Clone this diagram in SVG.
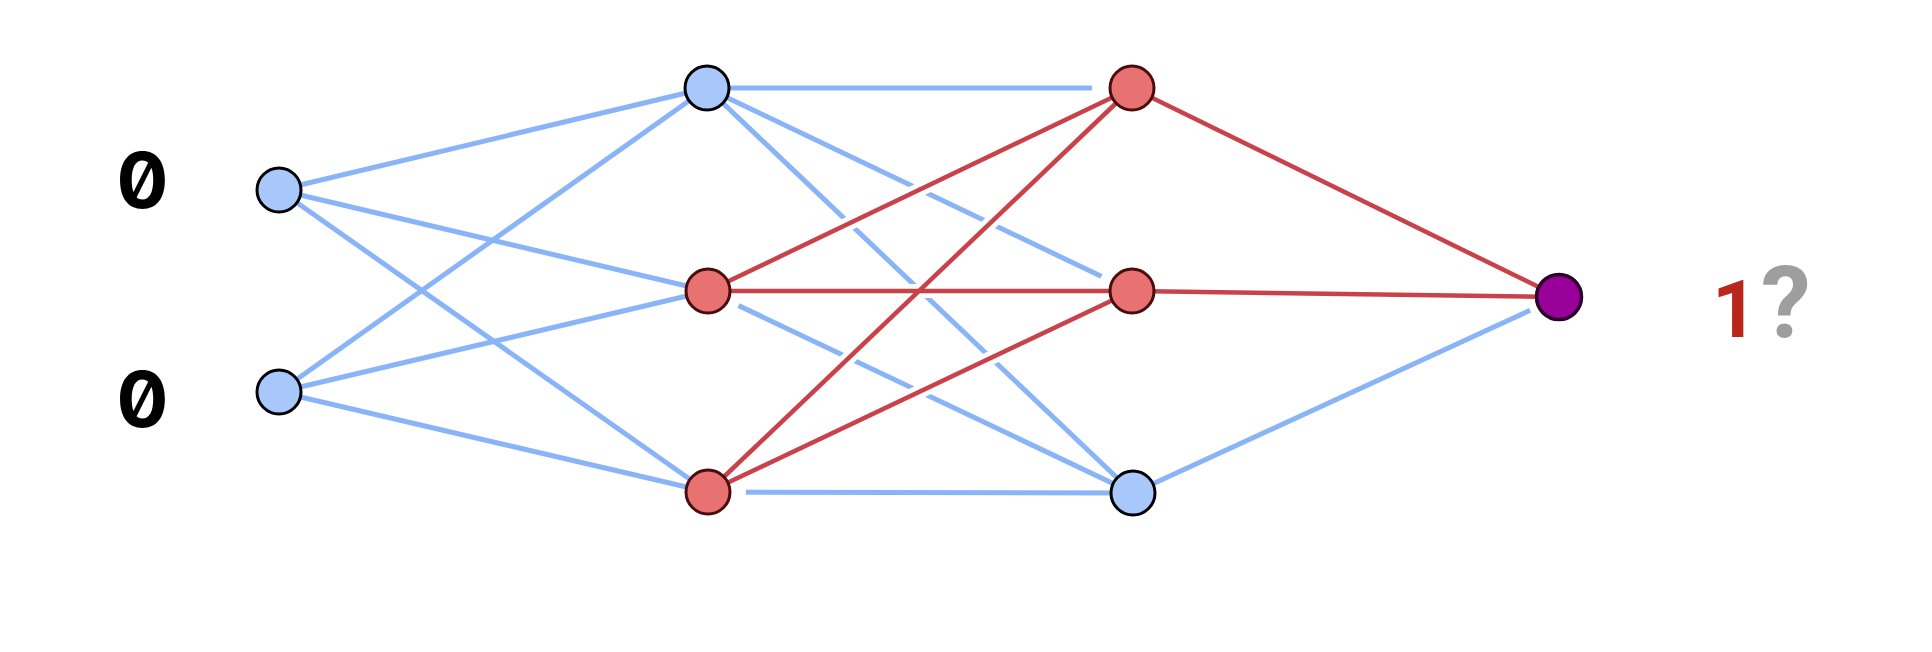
<svg xmlns="http://www.w3.org/2000/svg" width="1932" height="652" viewBox="0 0 1932 652">
<style>
.b{stroke:#8ab4f8;stroke-width:5;fill:none;stroke-linecap:butt}
.h{stroke:#ffffff;stroke-width:14;fill:none}
.r{stroke:#c9424a;stroke-width:4.5;fill:none}
.nb{fill:#a8c7fa;stroke:#000;stroke-width:3}
.nr{fill:#e87272;stroke:#4a0c0c;stroke-width:3}
.no{fill:#990099;stroke:#2a0028;stroke-width:3.5}
.halo{fill:#fff}
.zero{font-family:Inter,"DejaVu Sans Mono",monospace;font-weight:bold;font-size:77px;fill:#000;font-feature-settings:"zero" 1}
</style>
<rect width="1932" height="652" fill="#fff"/>
<g id="connectors">
<g id="blue-edges-a">
<line class="b" x1="707" y1="88" x2="1132" y2="88"/>
<line class="b" x1="707" y1="88" x2="1132" y2="291"/>
<line class="b" x1="707" y1="88" x2="1133" y2="493"/>
<line class="b" x1="708" y1="291" x2="1133" y2="493"/>
<line class="b" x1="708" y1="492" x2="1133" y2="493"/>
<line class="b" x1="1133" y1="493" x2="1559" y2="297"/>
</g>
<g id="node-halos">
<circle class="halo" cx="708" cy="291" r="34"/>
<circle class="halo" cx="708" cy="492" r="38"/>
<circle class="halo" cx="1132" cy="88" r="40"/>
<circle class="halo" cx="1132" cy="291" r="34"/>
<circle class="halo" cx="1559" cy="297" r="32"/>
</g>
<g id="blue-edges-b">
<line class="b" x1="279" y1="190" x2="707" y2="88"/>
<line class="b" x1="279" y1="190" x2="708" y2="291"/>
<line class="b" x1="279" y1="190" x2="708" y2="492"/>
<line class="b" x1="279" y1="392" x2="707" y2="88"/>
<line class="b" x1="279" y1="392" x2="708" y2="291"/>
<line class="b" x1="279" y1="392" x2="708" y2="492"/>
</g>
<g id="red-halos">
<line class="h" x1="708" y1="291" x2="1132" y2="88"/>
<line class="h" x1="708" y1="291" x2="1132" y2="291"/>
<line class="h" x1="708" y1="492" x2="1132" y2="88"/>
<line class="h" x1="708" y1="492" x2="1132" y2="291"/>
<line class="h" x1="1132" y1="88" x2="1559" y2="297"/>
<line class="h" x1="1132" y1="291" x2="1559" y2="297"/>
</g>
<g id="red-edges">
<line class="r" x1="708" y1="291" x2="1132" y2="88"/>
<line class="r" x1="708" y1="291" x2="1132" y2="291"/>
<line class="r" x1="708" y1="492" x2="1132" y2="88"/>
<line class="r" x1="708" y1="492" x2="1132" y2="291"/>
<line class="r" x1="1132" y1="88" x2="1559" y2="297"/>
<line class="r" x1="1132" y1="291" x2="1559" y2="297"/>
</g>
</g>
<g id="in1"><circle class="nb" cx="279" cy="190" r="22"/></g>
<g id="in2"><circle class="nb" cx="279" cy="392" r="22"/></g>
<g id="h1a"><circle class="nb" cx="707" cy="88" r="22"/></g>
<g id="h1b"><circle class="nr" cx="708" cy="291" r="22"/></g>
<g id="h1c"><circle class="nr" cx="708" cy="492" r="22"/></g>
<g id="h2a"><circle class="nr" cx="1132" cy="88" r="22"/></g>
<g id="h2b"><circle class="nr" cx="1132" cy="291" r="22"/></g>
<g id="h2c"><circle class="nb" cx="1133" cy="493" r="22"/></g>
<g id="out"><circle class="no" cx="1559" cy="297" r="22.5"/></g>
<g id="labels">
<text class="zero" x="142.5" y="208" text-anchor="middle">0</text>
<text class="zero" x="142.5" y="427" text-anchor="middle">0</text>
<text x="1712" y="337" font-family="Roboto, sans-serif" font-weight="bold" font-size="80" fill="#b8261c">1</text>
<text x="1761" y="337" font-family="Roboto, sans-serif" font-weight="bold" font-size="100" fill="#9e9e9e">?</text>
</g>
</svg>
